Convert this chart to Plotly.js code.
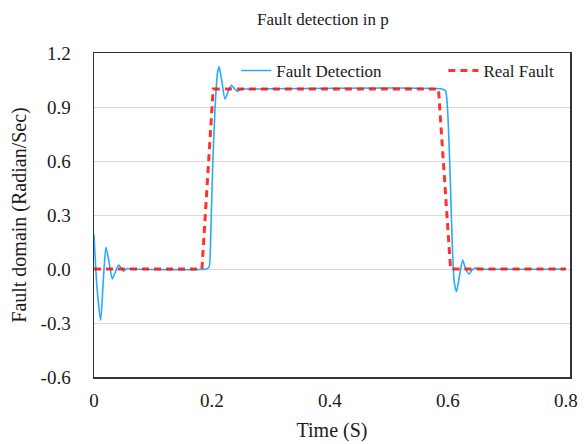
<!DOCTYPE html>
<html><head><meta charset="utf-8">
<script src="https://cdn.plot.ly/plotly-3.0.1.min.js"></script>
<style>html,body{margin:0;padding:0;background:#fff}</style>
</head><body><div id="chart" style="width:584px;height:444px"></div>
<script>
const detTime = [0, 0.005, 0.0113, 0.016, 0.0203, 0.026, 0.031, 0.037, 0.042, 0.0497, 0.056, 0.065,
  0.19, 0.195, 0.198, 0.201, 0.205, 0.209, 0.212, 0.2165, 0.222, 0.228, 0.233, 0.2385, 0.2435, 0.25, 0.26,
  0.59, 0.596, 0.6, 0.604, 0.608, 0.611, 0.6147, 0.619, 0.625, 0.63, 0.636, 0.641, 0.647, 0.655, 0.8];
const detValue = [0.19, -0.1, -0.285, -0.05, 0.12, 0.03, -0.055, -0.01, 0.022, -0.012, 0.003, 0,
  0, 0.01, 0.2, 0.55, 0.88, 1.08, 1.125, 1.05, 0.945, 0.99, 1.02, 1.0, 0.987, 1.0, 1.0,
  1.0, 0.99, 0.85, 0.5, 0.08, -0.08, -0.125, -0.05, 0.05, 0.0, -0.028, -0.005, 0.005, 0, 0];
const realTime = [0, 0.183, 0.202, 0.584, 0.6045, 0.8];
const realValue = [0, 0, 1, 1, 0, 0];
const yTicks = [-0.6, -0.3, 0, 0.3, 0.6, 0.9, 1.2];
const yTickText = ['-0.6', '-0.3', '0.0', '0.3', '0.6', '0.9', '1.2'];
const xTicks = [0, 0.2, 0.4, 0.6, 0.8];
const xTickText = ['0', '0.2', '0.4', '0.6', '0.8'];

const serif = 'Liberation Serif, Times New Roman, serif';
const traces = [
  {x: detTime, y: detValue, name: 'Fault Detection', mode: 'lines', legend: 'legend',
   line: {color: 'rgb(40,170,255)', width: 1.6, shape: 'spline', smoothing: 0.6}},
  {x: realTime, y: realValue, name: 'Real Fault', mode: 'lines', legend: 'legend2',
   line: {color: 'rgba(255,15,5,0.85)', width: 3, dash: '7px,5px'}}
];
const legFont = {family: serif, size: 17, color: '#1a1a1a'};
const layout = {
  width: 584, height: 444,
  margin: {l: 94, r: 14, t: 53, b: 67},
  paper_bgcolor: '#fff', plot_bgcolor: '#fff',
  font: {family: serif, color: '#1a1a1a', size: 19},
  title: {text: 'Fault detection in p', font: {family: serif, size: 17, color: '#1a1a1a'},
          x: 0.553, xref: 'container', y: 0.958, yref: 'container', yanchor: 'middle'},
  xaxis: {range: [0, 0.807], tickvals: xTicks, ticktext: xTickText, showgrid: false, zeroline: false,
          showline: true, mirror: true, linecolor: '#333', linewidth: 1.5, ticks: '',
          ticklabelstandoff: 6, tickfont: {family: serif, size: 19},
          title: {text: 'Time (S)', font: {family: serif, size: 20}, standoff: 12}},
  yaxis: {range: [-0.6, 1.2], tickvals: yTicks, ticktext: yTickText, showgrid: true, gridcolor: '#d9d9d9',
          gridwidth: 1, zeroline: false, showline: true, mirror: true, linecolor: '#333', linewidth: 1.5,
          ticks: '', ticklabelstandoff: 18, tickfont: {family: serif, size: 19},
          title: {text: 'Fault domain (Radian/Sec)', font: {family: serif, size: 20}, standoff: 8}},
  showlegend: true,
  legend: {x: 0.299, xanchor: 'left', y: 1.0, yanchor: 'top', bgcolor: 'rgba(0,0,0,0)', font: legFont},
  legend2: {x: 0.734, xanchor: 'left', y: 1.0, yanchor: 'top', bgcolor: 'rgba(0,0,0,0)', font: legFont}
};
Plotly.newPlot('chart', traces, layout, {displayModeBar: false, staticPlot: true});
</script></body></html>
